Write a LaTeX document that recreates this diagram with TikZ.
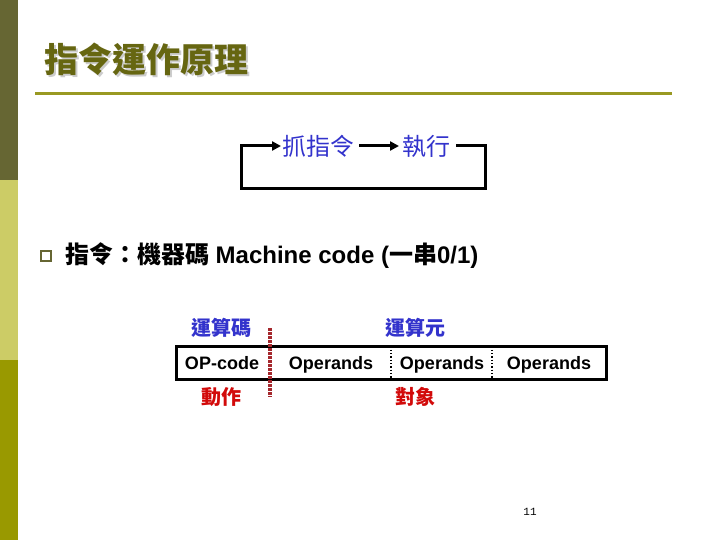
\documentclass[tikz,border=0pt]{standalone}
\usepackage{fontspec}
\setmainfont{Liberation Sans}
\newfontfamily\cjk{Noto Sans CJK TC}
\newfontfamily\pgfont{Liberation Mono}
\usetikzlibrary{arrows.meta,positioning}
\definecolor{bardark}{RGB}{102,102,51}
\definecolor{barlight}{RGB}{204,204,102}
\definecolor{barolive}{RGB}{153,153,0}
\definecolor{titleline}{RGB}{153,153,34}
\definecolor{titletext}{RGB}{102,102,17}
\definecolor{myblue}{RGB}{51,51,204}
\definecolor{myred}{RGB}{210,10,10}
\definecolor{divred}{RGB}{165,40,45}

\begin{document}
\begin{tikzpicture}[
  x=1pt, y=-1pt,
  every node/.style={inner sep=0pt, outer sep=0pt},
  titletxt/.style={anchor=west, font=\cjk\bfseries\fontsize{34}{40}\selectfont, text=titletext},
  looptext/.style={font=\cjk\fontsize{24}{28}\selectfont, text=myblue},
  loopline/.style={line width=3pt, black},
  bodytext/.style={anchor=west, font=\bfseries\fontsize{24}{28}\selectfont},
  celltext/.style={anchor=base, font=\bfseries\fontsize{18}{22}\selectfont},
  bluelabel/.style={font=\cjk\bfseries\fontsize{20}{24}\selectfont, text=myblue},
  redlabel/.style={font=\cjk\bfseries\fontsize{20}{24}\selectfont, text=myred},
  divider/.style={dotted, line width=1.3pt, black},
  reddivider/.style={divred, line width=4pt, dash pattern=on 2.5pt off 1.5pt}
]
\useasboundingbox (0,0) rectangle (720,540);

% side bars
\fill[bardark] (0,0) rectangle (18,180);
\fill[barlight] (0,180) rectangle (18,360);
\fill[barolive] (0,360) rectangle (18,540);

% title
\node[titletxt, text=black!20] (titleshadow) at (46.5,61.5) {指令運作原理};
\node[titletxt] (title) at (44,59) {指令運作原理};
\coordinate (tlineL) at (35,94);
\coordinate (tlineR) at (672,94);
\draw[titleline, line width=3pt] (tlineL) -- (tlineR);

% fetch / execute loop
\node[looptext, anchor=west] (fetch) at (282,146) {抓指令};
\node[looptext, right=48pt of fetch] (exec) {執行};
\coordinate (loopTL) at (241,146);
\coordinate (loopTR) at (485,146);
\coordinate (loopBR) at (485,189);
\coordinate (loopBL) at (241,189);
\draw[loopline, -{Triangle[length=9pt,width=9pt]}] ([xshift=6pt]exec.east) -- (loopTR) -- (loopBR) -- (loopBL) -- (loopTL) -- ([xshift=-1pt]fetch.west);
\draw[loopline, -{Triangle[length=9pt,width=9pt]}] ([xshift=5pt]fetch.east) -- ([xshift=-3pt]exec.west);

% bullet line
\node[draw=bardark, line width=2pt, minimum size=10pt] (bullet) at (46,256) {};
\node[bodytext] (instr) at (65,256) {{\cjk 指令：機器碼} Machine code ({\cjk 一串}0/1)};

% instruction format
\node[draw, line width=3pt, minimum width=430pt, minimum height=33pt] (frame) at (391,363) {};
\node[celltext] (opcode) at (222,369.5) {OP-code};
\node[celltext] (opndA) at (331,369.5) {Operands};
\node[celltext] (opndB) at (442,369.5) {Operands};
\node[celltext] (opndC) at (549,369.5) {Operands};
\coordinate (divA) at (391,0);
\coordinate (divB) at (492,0);
\draw[divider] (frame.north -| divA) -- (frame.south -| divA);
\draw[divider] (frame.north -| divB) -- (frame.south -| divB);
\coordinate (redtop) at (270,328);
\coordinate (redbot) at (270,397);
\draw[reddivider] (redtop) -- (redbot);

\node[bluelabel] (opname) at (221,328) {運算碼};
\node[bluelabel] (opndname) at (415,328) {運算元};
\node[redlabel] (action) at (221,397) {動作};
\node[redlabel] (target) at (415,397) {對象};

% page number
\node[font=\pgfont\fontsize{11}{12}\selectfont] (pgnum) at (530,512) {11};
\end{tikzpicture}
\end{document}
